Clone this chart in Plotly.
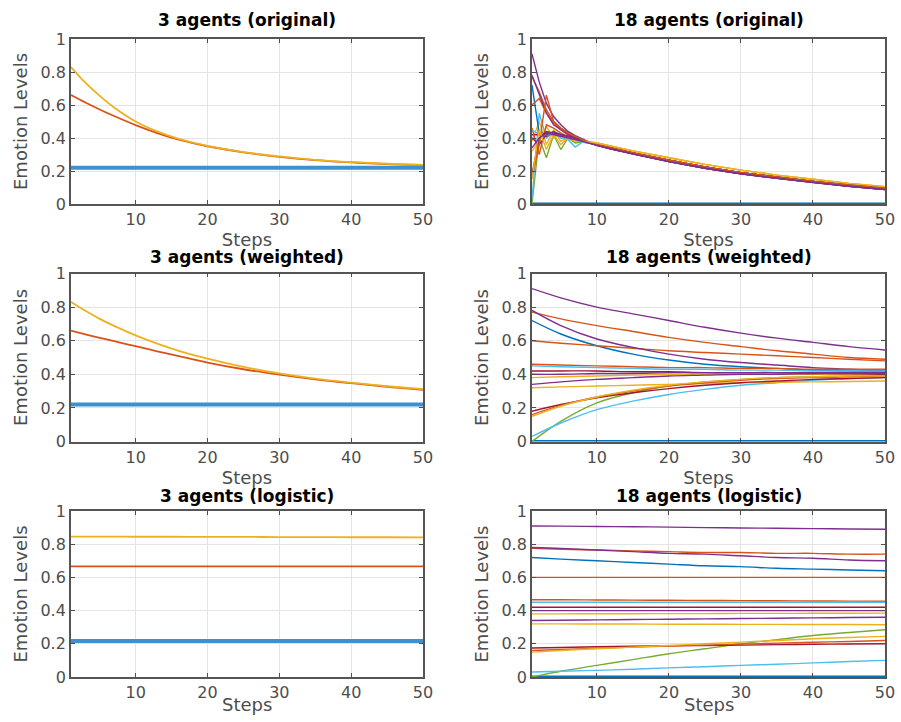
import plotly.graph_objects as go

# ---------------- data ----------------
steps_s = [1, 5, 10, 15, 20, 25, 30, 35, 40, 45, 50]
steps_s3 = [1, 3, 5, 7, 10, 13, 16, 20, 25, 30, 35, 40, 45, 50]
steps_e = [1, 2, 3, 4, 5, 6, 7, 8, 10, 12, 15, 20, 25, 30, 35, 40, 45, 50]

# 3 agents, original (steps_s3)
a3_orig_blue = [0.22, 0.22, 0.22, 0.22, 0.22, 0.22, 0.22, 0.22, 0.22, 0.22, 0.22, 0.22, 0.22, 0.22]
a3_orig_orange = [0.66, 0.615, 0.573, 0.533, 0.478, 0.43, 0.39, 0.35, 0.313, 0.286, 0.266, 0.252, 0.242, 0.235]
a3_orig_yellow = [0.83, 0.735, 0.655, 0.585, 0.50, 0.44, 0.395, 0.352, 0.315, 0.288, 0.268, 0.254, 0.244, 0.237]

# 3 agents, weighted (steps_s3)
a3_w_blue = [0.22, 0.22, 0.22, 0.22, 0.22, 0.22, 0.22, 0.22, 0.22, 0.22, 0.22, 0.22, 0.22, 0.22]
a3_w_orange = [0.66, 0.638, 0.617, 0.597, 0.567, 0.537, 0.508, 0.47, 0.43, 0.398, 0.37, 0.347, 0.326, 0.308]
a3_w_yellow = [0.83, 0.778, 0.73, 0.688, 0.632, 0.583, 0.54, 0.493, 0.444, 0.405, 0.374, 0.35, 0.329, 0.312]

# 3 agents, logistic (steps_s)
a3_l_blue = [0.217, 0.217, 0.217, 0.217, 0.217, 0.217, 0.217, 0.217, 0.217, 0.217, 0.217]
a3_l_orange = [0.667, 0.667, 0.667, 0.667, 0.667, 0.667, 0.667, 0.667, 0.667, 0.667, 0.667]
a3_l_yellow = [0.846, 0.846, 0.845, 0.845, 0.844, 0.844, 0.843, 0.843, 0.842, 0.842, 0.841]

# 18 agents, original: steps 1..8 per agent, then shared tails (steps 10..50)
tail_hi = [0.37, 0.35, 0.322, 0.28, 0.24, 0.205, 0.175, 0.15, 0.125, 0.105]
tail_mid = [0.36, 0.34, 0.31, 0.265, 0.225, 0.19, 0.162, 0.137, 0.115, 0.095]
tail_lo = [0.355, 0.333, 0.303, 0.257, 0.217, 0.183, 0.155, 0.13, 0.108, 0.088]
tail_zero = [0, 0, 0, 0, 0, 0, 0, 0, 0, 0]

o18_heads = [
    [0.0, 0.0, 0.0, 0.0, 0.0, 0.0, 0.0, 0.0],
    [0.77, 0.68, 0.57, 0.50, 0.46, 0.43, 0.405, 0.385],
    [0.38, 0.50, 0.36, 0.45, 0.38, 0.40, 0.39, 0.38],
    [0.91, 0.74, 0.61, 0.53, 0.48, 0.44, 0.415, 0.395],
    [0.0, 0.40, 0.28, 0.42, 0.33, 0.40, 0.37, 0.375],
    [0.03, 0.55, 0.40, 0.44, 0.40, 0.39, 0.345, 0.375],
    [0.42, 0.42, 0.41, 0.43, 0.42, 0.41, 0.40, 0.385],
    [0.72, 0.43, 0.43, 0.43, 0.42, 0.41, 0.40, 0.385],
    [0.60, 0.64, 0.55, 0.49, 0.45, 0.42, 0.40, 0.385],
    [0.32, 0.38, 0.47, 0.40, 0.43, 0.40, 0.395, 0.385],
    [0.78, 0.66, 0.55, 0.48, 0.45, 0.42, 0.40, 0.385],
    [0.46, 0.30, 0.48, 0.46, 0.43, 0.41, 0.40, 0.385],
    [0.45, 0.42, 0.42, 0.42, 0.41, 0.40, 0.39, 0.38],
    [0.18, 0.40, 0.44, 0.43, 0.42, 0.41, 0.40, 0.385],
    [0.40, 0.36, 0.42, 0.44, 0.42, 0.41, 0.40, 0.385],
    [0.16, 0.36, 0.66, 0.50, 0.46, 0.43, 0.41, 0.39],
    [0.15, 0.45, 0.33, 0.42, 0.36, 0.40, 0.38, 0.38],
    [0.34, 0.40, 0.43, 0.42, 0.41, 0.40, 0.39, 0.38],
]
o18_tails = [tail_zero, tail_mid, tail_hi, tail_lo, tail_mid, tail_mid, tail_mid,
             tail_mid, tail_mid, tail_hi, tail_lo, tail_mid, tail_mid, tail_mid,
             tail_lo, tail_mid, tail_hi, tail_lo]

# 18 agents, weighted (steps_s)
w18 = [
    [0, 0, 0, 0, 0, 0, 0, 0, 0, 0, 0],
    [0.77, 0.73, 0.69, 0.655, 0.62, 0.59, 0.565, 0.54, 0.52, 0.50, 0.49],
    [0.38, 0.385, 0.39, 0.395, 0.40, 0.40, 0.40, 0.40, 0.40, 0.40, 0.40],
    [0.91, 0.855, 0.80, 0.76, 0.72, 0.68, 0.645, 0.615, 0.59, 0.565, 0.545],
    [0.0, 0.12, 0.23, 0.29, 0.33, 0.355, 0.37, 0.38, 0.385, 0.39, 0.39],
    [0.03, 0.11, 0.19, 0.24, 0.28, 0.31, 0.335, 0.35, 0.365, 0.375, 0.38],
    [0.42, 0.42, 0.42, 0.415, 0.415, 0.41, 0.41, 0.41, 0.405, 0.405, 0.40],
    [0.72, 0.64, 0.57, 0.52, 0.485, 0.46, 0.445, 0.435, 0.425, 0.42, 0.415],
    [0.60, 0.585, 0.57, 0.555, 0.54, 0.53, 0.52, 0.51, 0.50, 0.49, 0.48],
    [0.32, 0.325, 0.33, 0.335, 0.34, 0.345, 0.35, 0.352, 0.355, 0.357, 0.36],
    [0.78, 0.69, 0.61, 0.56, 0.52, 0.49, 0.47, 0.455, 0.44, 0.43, 0.42],
    [0.46, 0.455, 0.45, 0.445, 0.44, 0.44, 0.435, 0.435, 0.43, 0.43, 0.43],
    [0.45, 0.445, 0.44, 0.435, 0.43, 0.43, 0.425, 0.425, 0.42, 0.42, 0.42],
    [0.18, 0.22, 0.26, 0.29, 0.315, 0.335, 0.35, 0.36, 0.37, 0.375, 0.38],
    [0.40, 0.40, 0.405, 0.405, 0.41, 0.41, 0.41, 0.41, 0.41, 0.41, 0.41],
    [0.16, 0.215, 0.265, 0.30, 0.33, 0.35, 0.365, 0.375, 0.38, 0.385, 0.39],
    [0.15, 0.21, 0.265, 0.305, 0.335, 0.355, 0.37, 0.38, 0.385, 0.39, 0.39],
    [0.34, 0.355, 0.37, 0.38, 0.39, 0.395, 0.40, 0.40, 0.405, 0.405, 0.405],
]

# 18 agents, logistic (steps_s)
l18 = [
    [0, 0, 0, 0, 0, 0, 0, 0, 0, 0, 0],
    [0.775, 0.77, 0.765, 0.76, 0.755, 0.75, 0.75, 0.745, 0.745, 0.74, 0.74],
    [0.38, 0.38, 0.381, 0.381, 0.382, 0.382, 0.383, 0.383, 0.384, 0.384, 0.385],
    [0.91, 0.909, 0.907, 0.905, 0.903, 0.90, 0.898, 0.896, 0.894, 0.892, 0.89],
    [0.0, 0.035, 0.07, 0.105, 0.14, 0.17, 0.20, 0.225, 0.25, 0.268, 0.285],
    [0.03, 0.035, 0.04, 0.047, 0.055, 0.062, 0.07, 0.077, 0.085, 0.093, 0.10],
    [0.42, 0.42, 0.42, 0.42, 0.42, 0.42, 0.42, 0.42, 0.42, 0.42, 0.42],
    [0.72, 0.71, 0.70, 0.69, 0.68, 0.67, 0.665, 0.655, 0.65, 0.645, 0.64],
    [0.60, 0.60, 0.60, 0.60, 0.60, 0.60, 0.60, 0.60, 0.60, 0.60, 0.60],
    [0.32, 0.32, 0.319, 0.319, 0.318, 0.318, 0.317, 0.317, 0.316, 0.316, 0.315],
    [0.78, 0.775, 0.765, 0.755, 0.745, 0.74, 0.73, 0.72, 0.715, 0.705, 0.70],
    [0.465, 0.465, 0.464, 0.463, 0.462, 0.461, 0.46, 0.459, 0.458, 0.457, 0.456],
    [0.45, 0.45, 0.45, 0.45, 0.45, 0.45, 0.45, 0.45, 0.45, 0.45, 0.45],
    [0.175, 0.178, 0.182, 0.185, 0.188, 0.19, 0.192, 0.195, 0.197, 0.199, 0.20],
    [0.40, 0.40, 0.40, 0.40, 0.40, 0.40, 0.40, 0.40, 0.40, 0.40, 0.40],
    [0.16, 0.166, 0.173, 0.18, 0.186, 0.192, 0.198, 0.204, 0.209, 0.214, 0.22],
    [0.15, 0.16, 0.17, 0.18, 0.19, 0.20, 0.21, 0.22, 0.23, 0.238, 0.245],
    [0.34, 0.342, 0.344, 0.346, 0.348, 0.35, 0.352, 0.354, 0.356, 0.358, 0.36],
]

titles = ["3 agents (original)", "18 agents (original)",
          "3 agents (weighted)", "18 agents (weighted)",
          "3 agents (logistic)", "18 agents (logistic)"]
x_ticks = [10, 20, 30, 40, 50]
y_ticks = [0, 0.2, 0.4, 0.6, 0.8, 1]
y_tick_text = ["0", "0.2", "0.4", "0.6", "0.8", "1"]

# ---------------- styling ----------------
B, O, Y, P, G, LB, DR = "#0072BD", "#D95319", "#EDB120", "#7E2F8E", "#77AC30", "#4DBEEE", "#A2142F"
agent_colors = [B, O, Y, P, G, LB, DR, B, O, Y, P, O, LB, DR, P, O, Y, P]
FONT = "DejaVu Sans"
W, H = 901, 722

xdom = [[71 / W, 423 / W], [532 / W, 885 / W]]
ydom = [[1 - 204 / H, 1 - 39 / H], [1 - 441.5 / H, 1 - 273.5 / H], [1 - 677 / H, 1 - 511 / H]]
title_y = [20, 257, 496]
steps_label_y_bottom = 704

fig = go.Figure()


def add_line(idx, xs, ys, color, width=1.5, shape="spline"):
    sfx = "" if idx == 1 else str(idx)
    fig.add_trace(go.Scatter(x=xs, y=ys, mode="lines", xaxis="x" + sfx, yaxis="y" + sfx,
                             line=dict(color=color, width=width, shape=shape,
                                       smoothing=1.0 if shape == "spline" else None),
                             showlegend=False, hoverinfo="skip"))


# 3-agent panels
for idx, xs, (bl, orr, yl) in zip([1, 3, 5], [steps_s3, steps_s3, steps_s],
                                  [(a3_orig_blue, a3_orig_orange, a3_orig_yellow),
                                   (a3_w_blue, a3_w_orange, a3_w_yellow),
                                   (a3_l_blue, a3_l_orange, a3_l_yellow)]):
    add_line(idx, xs, bl, "#3f90cf", 4)
    add_line(idx, xs, orr, O, 1.8)
    add_line(idx, xs, yl, Y, 1.8)

# 18 original
for k in range(18):
    add_line(2, steps_e, o18_heads[k] + o18_tails[k], agent_colors[k],
             3 if k == 0 else 1.4, shape="linear")
# 18 weighted / logistic
for k in range(18):
    add_line(4, steps_s, w18[k], agent_colors[k], 3 if k == 0 else 1.4)
for k in range(18):
    add_line(6, steps_s, l18[k], agent_colors[k], 3 if k == 0 else 1.4)

layout = dict(width=W, height=H, margin=dict(l=0, r=0, t=0, b=0),
              paper_bgcolor="white", plot_bgcolor="white",
              font=dict(family=FONT, color="#4d4d4d"))
annotations = []
for r in range(3):
    for c in range(2):
        idx = r * 2 + c + 1
        sfx = "" if idx == 1 else str(idx)
        xtitle = dict(text="Steps", font=dict(family=FONT, size=18, color="#4d4d4d"), standoff=0)
        if r == 2:
            xtitle = dict(text="")
            annotations.append(dict(text="Steps", xref="paper", yref="paper",
                                    x=(xdom[c][0] + xdom[c][1]) / 2, y=1 - steps_label_y_bottom / H,
                                    xanchor="center", yanchor="middle", showarrow=False,
                                    font=dict(family=FONT, size=18, color="#4d4d4d")))
        layout["xaxis" + sfx] = dict(
            domain=xdom[c], anchor="y" + sfx, range=[1, 50], tickvals=x_ticks,
            ticks="inside", ticklen=4, tickcolor="#4d4d4d", tickwidth=1,
            showline=True, linecolor="#555555", linewidth=1.8, mirror="ticks",
            showgrid=True, gridcolor="#e4e4e4", gridwidth=1, zeroline=False,
            tickfont=dict(family=FONT, size=16, color="#4d4d4d"),
            title=xtitle, automargin=False, fixedrange=True)
        layout["yaxis" + sfx] = dict(
            domain=ydom[r], anchor="x" + sfx, range=[0, 1], tickvals=y_ticks, ticktext=y_tick_text,
            ticks="inside", ticklen=4, tickcolor="#4d4d4d", tickwidth=1,
            showline=True, linecolor="#555555", linewidth=1.8, mirror="ticks",
            showgrid=True, gridcolor="#e4e4e4", gridwidth=1, zeroline=False,
            tickfont=dict(family=FONT, size=16, color="#4d4d4d"),
            title=dict(text="Emotion Levels", font=dict(family=FONT, size=18, color="#4d4d4d"), standoff=8),
            automargin=False, fixedrange=True)
        annotations.append(dict(text="<b>" + titles[idx - 1] + "</b>", xref="paper", yref="paper",
                                x=(xdom[c][0] + xdom[c][1]) / 2, y=1 - title_y[r] / H,
                                xanchor="center", yanchor="middle", showarrow=False,
                                font=dict(family=FONT, size=17, color="black")))
layout["annotations"] = annotations
fig.update_layout(**layout)
fig.write_html("out.html", config={"displayModeBar": False},
               post_script="document.body.style.margin='0';document.body.style.overflow='hidden';")
